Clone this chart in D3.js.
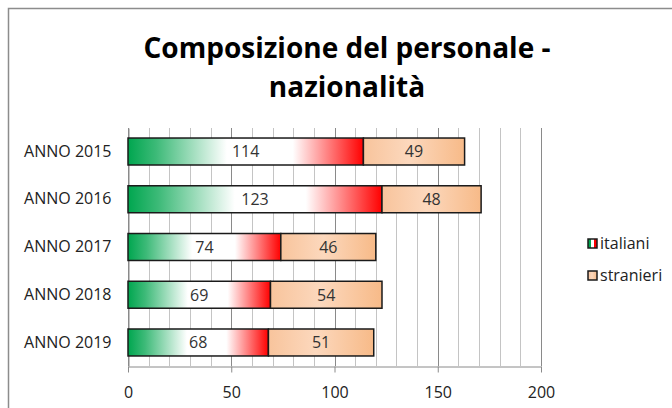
<!DOCTYPE html>
<html>
<head>
<meta charset="utf-8">
<script src="https://cdn.jsdelivr.net/npm/d3@7"></script>
<style>
  body { margin: 0; background: #fff; }
  text { font-family: "Open Sans", sans-serif; }
</style>
</head>
<body>
<svg id="chart" width="672" height="408"></svg>
<script>
// data
var categories = ["ANNO 2015", "ANNO 2016", "ANNO 2017", "ANNO 2018", "ANNO 2019"];
var italiani = [114, 123, 74, 69, 68];
var stranieri = [49, 48, 46, 54, 51];
var seriesNames = ["italiani", "stranieri"];
var titleLines = ["Composizione del personale -", "nazionalità"];

var svg = d3.select("#chart");

// gradients (italian flag for italiani, peach for stranieri)
var defs = svg.append("defs");
var gIta = defs.append("linearGradient").attr("id", "gradIta");
[[0, "#00a64f"], [0.12, "#3dba78"], [0.42, "#ffffff"], [0.7, "#ffffff"], [1, "#ff0000"]].forEach(function(s) {
  gIta.append("stop").attr("offset", s[0]).attr("stop-color", s[1]);
});
var gStr = defs.append("linearGradient").attr("id", "gradStr");
[[0, "#f8c49c"], [0.45, "#fcd8bd"], [1, "#f7ba88"]].forEach(function(s) {
  gStr.append("stop").attr("offset", s[0]).attr("stop-color", s[1]);
});
var legIta = defs.append("linearGradient").attr("id", "legIta");
[[0, "#00a64f"], [0.33, "#00a64f"], [0.34, "#ffffff"], [0.66, "#ffffff"], [0.67, "#ff0000"], [1, "#ff0000"]].forEach(function(s) {
  legIta.append("stop").attr("offset", s[0]).attr("stop-color", s[1]);
});

// outer frame of the chart object
svg.append("rect")
  .attr("x", 8.5).attr("y", 8.5)
  .attr("width", 700).attr("height", 450)
  .attr("fill", "#fff").attr("stroke", "#8c8c8c").attr("stroke-width", 1.5);

// title
svg.append("g").selectAll("text")
  .data(titleLines).enter().append("text")
  .attr("x", 347).attr("y", function(d, i) { return 58 + i * 39; })
  .attr("text-anchor", "middle")
  .style("font-size", "28px").style("font-weight", "bold").style("fill", "#000")
  .text(function(d) { return d; });

var x = d3.scaleLinear().domain([0, 200]).range([128, 541]);
var y = d3.scaleBand().domain(categories).range([128, 366]).paddingInner(0.435).paddingOuter(0.21);

// gridlines: minor every 10, major every 50
svg.append("g").selectAll("line")
  .data(x.ticks(20)).enter().append("line")
  .attr("x1", function(d) { return Math.round(x(d)) + 0.5; })
  .attr("x2", function(d) { return Math.round(x(d)) + 0.5; })
  .attr("y1", 128).attr("y2", 366)
  .attr("stroke", function(d) { return d % 50 === 0 ? "#8a8a8a" : "#c4c4c4"; })
  .attr("stroke-width", 1);

// x axis
var xAxis = svg.append("g")
  .attr("transform", "translate(0,366.5)")
  .call(d3.axisBottom(x).tickValues(x.ticks(4)).tickSize(6).tickSizeOuter(0).tickPadding(14));
xAxis.select(".domain").attr("stroke", "#8a8a8a");
xAxis.selectAll(".tick line").attr("stroke", "#8a8a8a");
xAxis.selectAll(".tick text").style("font-size", "16px").style("fill", "#222")
  .style("font-family", "'Open Sans', sans-serif");

// y axis (categories)
var yAxis = svg.append("g")
  .attr("transform", "translate(128.5,0)")
  .call(d3.axisLeft(y).tickSize(0).tickPadding(17));
yAxis.select(".domain").attr("stroke", "#8a8a8a");
yAxis.selectAll(".tick text").style("font-size", "16px").style("fill", "#222")
  .style("font-family", "'Open Sans', sans-serif");

// stacked bars
var rows = categories.map(function(c, i) { return { cat: c, ita: italiani[i], str: stranieri[i] }; });
var bars = svg.append("g").selectAll("g").data(rows).enter().append("g");

bars.append("rect")
  .attr("x", x(0)).attr("y", function(d) { return y(d.cat); })
  .attr("width", function(d) { return x(d.ita) - x(0); })
  .attr("height", y.bandwidth())
  .attr("fill", "url(#gradIta)").attr("stroke", "#1a1a1a").attr("stroke-width", 1.5);

bars.append("rect")
  .attr("x", function(d) { return x(d.ita); }).attr("y", function(d) { return y(d.cat); })
  .attr("width", function(d) { return x(d.ita + d.str) - x(d.ita); })
  .attr("height", y.bandwidth())
  .attr("fill", "url(#gradStr)").attr("stroke", "#1a1a1a").attr("stroke-width", 1.5);

// value labels
bars.append("text")
  .attr("x", function(d) { return (x(0) + x(d.ita)) / 2; })
  .attr("y", function(d) { return y(d.cat) + y.bandwidth() / 2; })
  .attr("dy", "0.36em").attr("text-anchor", "middle")
  .style("font-size", "16px").style("fill", "#333")
  .text(function(d) { return d.ita; });

bars.append("text")
  .attr("x", function(d) { return (x(d.ita) + x(d.ita + d.str)) / 2; })
  .attr("y", function(d) { return y(d.cat) + y.bandwidth() / 2; })
  .attr("dy", "0.36em").attr("text-anchor", "middle")
  .style("font-size", "16px").style("fill", "#333")
  .text(function(d) { return d.str; });

// legend
var legend = svg.append("g").selectAll("g")
  .data(seriesNames).enter().append("g")
  .attr("transform", function(d, i) { return "translate(588," + (243.5 + i * 32) + ")"; });
legend.append("rect")
  .attr("x", 0).attr("y", -4.5).attr("width", 9).attr("height", 9)
  .attr("fill", function(d, i) { return i === 0 ? "url(#legIta)" : "url(#gradStr)"; })
  .attr("stroke", "#1a1a1a").attr("stroke-width", 1.5);
legend.append("text")
  .attr("x", 12).attr("dy", "0.35em")
  .style("font-size", "16px").style("fill", "#222")
  .text(function(d) { return d; });
</script>
</body>
</html>
